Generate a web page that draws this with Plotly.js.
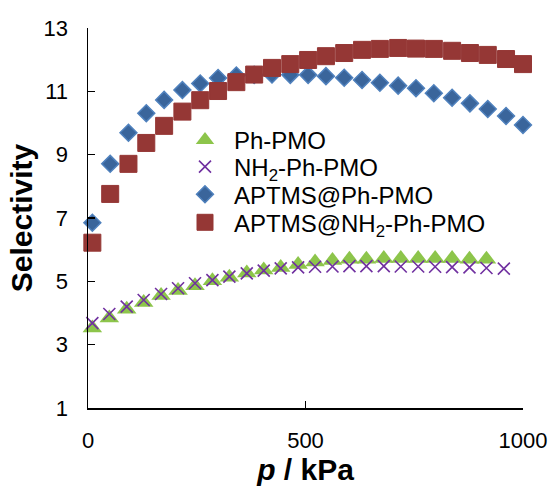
<!DOCTYPE html>
<html>
<head>
<meta charset="utf-8">
<script src="https://cdn.plot.ly/plotly-3.0.1.min.js"></script>
<style>html,body{margin:0;padding:0;background:#fff;}#chart{width:552px;height:492px;}</style>
</head>
<body>
<div id="chart"></div>
<script>
// Series names
var seriesNames = ["Ph-PMO", "NH<sub>2</sub>-Ph-PMO", "APTMS@Ph-PMO", "APTMS@NH<sub>2</sub>-Ph-PMO"];

// Pressure (kPa) for the lower two series
var pLow = [10, 49, 89, 128, 168, 207, 246, 286, 325, 365, 404, 443, 483, 522, 562, 601, 640, 680, 719, 759, 798, 837, 877, 916, 956];
// Pressure (kPa) for the upper two series
var pHigh = [10, 51, 93, 134, 175, 217, 258, 299, 341, 382, 423, 465, 506, 547, 589, 630, 671, 713, 754, 795, 837, 878, 919, 961, 1000];

// Selectivity values
var phPMO = [3.53, 3.84, 4.12, 4.33, 4.55, 4.71, 4.86, 5.02, 5.13, 5.26, 5.36, 5.44, 5.53, 5.61, 5.66, 5.70, 5.70, 5.72, 5.72, 5.72, 5.72, 5.72, 5.70, 5.70];
var nh2PhPMO = [3.68, 3.97, 4.20, 4.41, 4.60, 4.78, 4.94, 5.04, 5.15, 5.25, 5.34, 5.41, 5.44, 5.46, 5.47, 5.48, 5.48, 5.48, 5.47, 5.47, 5.46, 5.45, 5.44, 5.42, 5.40];
var aptmsPhPMO = [6.85, 8.71, 9.69, 10.31, 10.73, 11.04, 11.25, 11.42, 11.50, 11.52, 11.53, 11.52, 11.52, 11.48, 11.43, 11.36, 11.27, 11.18, 11.10, 10.94, 10.80, 10.62, 10.44, 10.22, 9.94];
var aptmsNH2PhPMO = [6.22, 7.76, 8.71, 9.37, 9.91, 10.36, 10.72, 11.01, 11.29, 11.53, 11.74, 11.86, 11.99, 12.11, 12.21, 12.31, 12.34, 12.37, 12.35, 12.34, 12.28, 12.21, 12.15, 12.02, 11.86];

// Axis ticks
var xTicks = [0, 500, 1000];
var yTicks = [1, 3, 5, 7, 9, 11, 13];

var FONT = "Arial, 'Liberation Sans', sans-serif";

var traces = [
  {x: pLow.slice(0, phPMO.length), y: phPMO, name: seriesNames[0], type: "scatter", mode: "markers", cliponaxis: false, legend: "legend",
   marker: {symbol: "triangle-up", size: 17, color: "#8DC54B", line: {width: 0}}},
  {x: pLow, y: nh2PhPMO, name: seriesNames[1], type: "scatter", mode: "markers", cliponaxis: false, legend: "legend2",
   marker: {symbol: "x-thin-open", size: 12, color: "#7030A0", line: {width: 1.6, color: "#7030A0"}}},
  {x: pHigh, y: aptmsPhPMO, name: seriesNames[2], type: "scatter", mode: "markers", cliponaxis: false, legend: "legend3",
   marker: {symbol: "diamond", size: 13, color: "#3A659B", line: {width: 1.5, color: "#4F81BD"}}},
  {x: pHigh, y: aptmsNH2PhPMO, name: seriesNames[3], type: "scatter", mode: "markers", cliponaxis: false, legend: "legend4",
   marker: {symbol: "square", size: 17, color: "#953735", line: {width: 1, color: "#953735"}}}
];

function legendAt(yPaper) {
  return {x: 0.2023, y: yPaper, xanchor: "left", yanchor: "middle", bgcolor: "rgba(0,0,0,0)",
          font: {family: FONT, size: 24, color: "#000"}, itemwidth: 48, itemsizing: "trace"};
}

var layout = {
  width: 552, height: 492,
  margin: {l: 88, r: 29, t: 28, b: 84, pad: 0},
  paper_bgcolor: "#fff", plot_bgcolor: "#fff",
  font: {family: FONT, size: 22, color: "#000"},
  showlegend: true,
  legend: legendAt(0.7044),
  legend2: legendAt(0.6342),
  legend3: legendAt(0.5613),
  legend4: legendAt(0.4876),
  xaxis: {
    range: [0, 1000], tickvals: xTicks, ticktext: xTicks.map(String),
    showgrid: false, zeroline: false, showline: true, linecolor: "#000", linewidth: 1.5,
    ticks: "inside", ticklen: 7, tickwidth: 1.5, tickcolor: "#000",
    tickfont: {family: FONT, size: 22}, ticklabelstandoff: 12,
    title: {text: "<b><i>p</i> / kPa</b>", font: {family: FONT, size: 30}, standoff: 7}
  },
  yaxis: {
    range: [1, 13], tickvals: yTicks, ticktext: yTicks.map(String),
    showgrid: false, zeroline: false, showline: true, linecolor: "#000", linewidth: 1.5,
    ticks: "inside", ticklen: 7, tickwidth: 1.5, tickcolor: "#000",
    tickfont: {family: FONT, size: 22}, ticklabelstandoff: 14,
    title: {text: "<b>Selectivity</b>", font: {family: FONT, size: 30}, standoff: 2}
  }
};

Plotly.newPlot("chart", traces, layout, {displayModeBar: false, staticPlot: true});
</script>
</body>
</html>
